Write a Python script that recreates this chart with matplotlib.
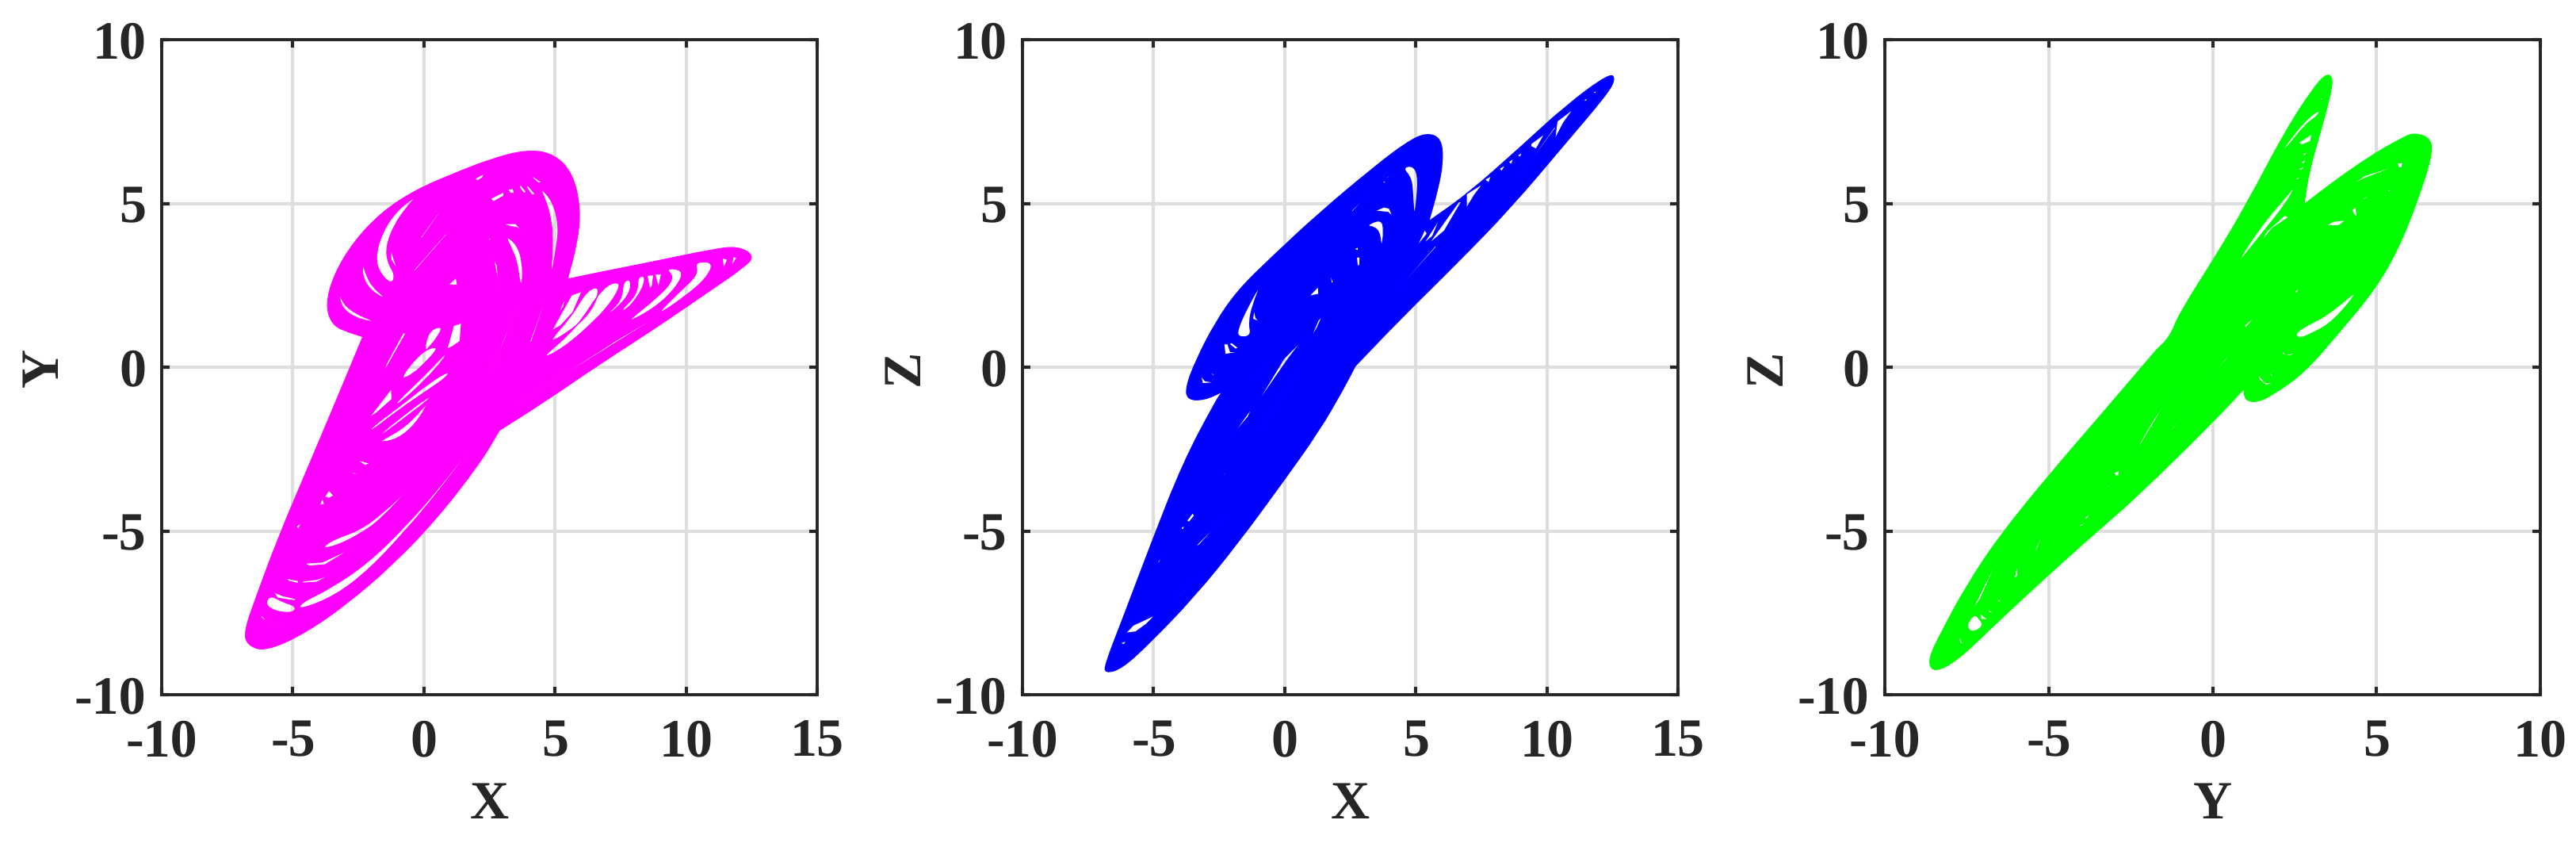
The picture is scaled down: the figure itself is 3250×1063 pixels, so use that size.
import numpy as np
import matplotlib
matplotlib.use('Agg')
import matplotlib.pyplot as plt
from matplotlib.path import Path
from matplotlib.patches import PathPatch

plt.rcParams['font.family'] = ['Liberation Serif', 'DejaVu Serif']
plt.rcParams['font.weight'] = 'bold'
plt.rcParams['axes.unicode_minus'] = False
plt.rcParams['text.hinting'] = 'none'

# outlines, one closed curve per panel
xy_x = [-6.85,-6.40,-5.56,-4.52,-3.48,-2.33,-2.85,-3.50,-3.75,-3.42,-2.68,-1.62,-0.35,1.10,2.56,3.92,4.95,5.68,5.98,5.85,5.48,
        6.73,8.81,10.90,11.98,12.62,12.18,10.90,8.81,6.73,4.65,2.88,2.15,0.48,-1.19,-2.85,-4.52,-6.05,-6.75]
xy_y = [-8.05,-7.02,-5.21,-3.25,-1.28,0.93,1.06,1.28,1.92,2.85,3.83,4.73,5.40,5.90,6.36,6.64,6.52,5.92,4.82,3.80,2.69,
        2.90,3.23,3.58,3.70,3.39,3.03,2.33,1.18,0.11,-1.03,-1.93,-2.92,-4.64,-6.03,-7.18,-8.12,-8.68,-8.48]
xy_sharp = [5, 20, 31]

xz_x = [-6.85,-6.17,-5.13,-3.88,-2.63,-2.38,-3.04,-3.70,-3.78,-3.38,-2.65,-1.79,-0.54,1.33,3.42,4.67,5.42,5.98,6.04,5.85,5.50,
        6.96,9.04,10.71,12.40,12.62,12.27,10.71,8.63,6.54,4.46,2.69,2.27,1.33,-0.13,-1.79,-3.46,-5.13,-6.20,-6.85]
xz_y = [-9.07,-7.67,-5.46,-2.92,-1.03,-0.75,-1.00,-1.00,-0.62,0.22,1.36,2.35,3.33,4.72,6.12,6.88,7.16,6.98,6.26,5.44,4.46,
        5.28,6.75,7.98,8.98,8.80,8.31,6.84,4.87,3.15,1.51,0.03,-0.62,-1.93,-3.57,-5.38,-7.02,-8.41,-9.20,-9.35]
xz_sharp = [5, 20, 31]

yz_x = [-8.70,-8.27,-7.50,-6.50,-5.00,-3.40,-1.72,-1.30,-1.01,0.10,1.05,2.22,3.11,3.50,3.68,3.56,3.28,2.95,2.79,
        3.62,4.78,5.78,6.15,6.68,6.68,6.27,5.70,4.98,3.84,2.79,1.82,1.33,0.98,0.95,
        0.97,0.00,-2.30,-3.51,-5.00,-6.73,-7.78,-8.50]
yz_y = [-8.96,-8.07,-6.65,-5.15,-3.30,-1.45,0.52,0.93,1.65,3.40,5.00,7.22,8.58,8.98,8.80,8.18,7.14,6.01,4.97,
        5.61,6.43,7.00,7.16,6.98,6.41,5.13,3.68,2.40,1.03,-0.18,-0.86,-1.08,-1.00,-0.62,
        -0.65,-1.69,-3.95,-5.00,-6.33,-7.94,-8.95,-9.33]
yz_sharp = [6, 18, 34]

# white gaps inside each attractor
xy_holes = [
    [(-0.23,5.27),(-1.04,4.78),(-1.60,4.10),(-1.85,3.37),(-1.70,2.89),(-1.24,2.52),(-1.09,2.81),(-1.39,3.21),(-1.44,3.69),(-1.14,4.34),(-0.64,4.90)],
    [(-2.33,3.17),(-2.35,2.81),(-2.10,2.40),(-1.55,2.10),(-1.55,2.18),(-1.95,2.44),(-2.20,2.81)],
    [(-3.24,2.32),(-3.16,1.84),(-2.65,1.52),(-1.97,1.38),(-1.97,1.43),(-2.55,1.61),(-3.07,1.92)],
    [(-1.26,3.61),(-1.26,3.29),(-0.99,2.95),(-1.14,3.29)],
    [(-0.35,2.93),(0.88,4.06),(0.83,4.07),(-0.38,2.97)],
    [(-0.08,3.94),(0.58,4.69),(0.53,4.69),(-0.13,3.96)],
    [(0.93,2.52),(1.23,2.73),(1.28,2.50)],
    [(3.10,4.04),(3.56,3.73),(3.76,3.21),(3.76,2.56),(3.66,2.56),(3.56,3.21),(3.35,3.61)],
    [(4.41,5.51),(4.92,5.06),(5.14,4.34),(5.07,3.69),(4.82,2.65),(4.92,3.69),(4.87,4.50),(4.62,5.15)],
    [(3.00,4.38),(3.51,4.38),(3.76,4.14),(3.56,4.26),(3.20,4.32)],
    [(2.55,5.15),(3.05,5.35),(3.05,5.23),(2.65,5.05)],
    [(1.94,5.75),(2.29,5.91),(2.24,5.79),(2.04,5.69)],
    [(3.20,5.43),(3.40,5.45),(3.45,5.31),(3.30,5.31)],
    [(3.66,5.59),(3.91,5.35),(3.81,5.31),(3.66,5.47)],
    [(3.96,5.55),(4.26,5.27),(4.11,5.27),(3.91,5.50)],
    [(4.11,5.85),(4.52,5.63),(4.36,5.63),(4.16,5.77)],
    [(2.65,3.33),(2.80,3.09),(2.85,2.48),(2.75,2.93)],
    [(2.44,3.98),(2.57,3.90),(2.49,3.87)],
    [(3.56,1.80),(3.10,0.87),(2.49,-0.22),(3.05,0.87)],
    [(4.62,2.00),(4.11,0.79),(4.01,0.71),(4.52,1.85)],
    [(-1.49,-0.10),(-0.69,1.03),(-0.79,1.05),(-1.46,0.06)],
    [(0.02,0.47),(0.12,0.95),(0.37,1.19),(0.73,1.23),(0.47,0.87),(0.22,0.63)],
    [(0.88,0.55),(1.13,1.27),(1.43,1.35),(1.38,0.79),(1.08,0.63)],
    [(-0.89,-0.38),(-0.54,0.06),(0.07,0.55),(0.58,0.63),(0.17,0.23),(-0.43,-0.22)],
    [(-2.10,-1.55),(-1.24,-0.66),(-1.22,-0.98),(-1.80,-1.39)],
    [(-1.09,-1.10),(0.07,-0.22),(0.88,0.47),(0.78,0.27),(0.07,-0.38),(-0.99,-1.15)],
    [(-2.05,-1.87),(-0.84,-1.15),(0.17,-0.50),(0.98,-0.10),(0.88,-0.30),(0.07,-0.74),(-1.04,-1.35),(-2.00,-1.95)],
    [(0.27,-0.94),(-0.74,-1.55),(-1.60,-2.07),(-1.70,-2.07),(-0.84,-1.51),(0.17,-0.90)],
    [(5.12,1.62),(5.42,2.20),(5.32,1.84)],
    [(4.87,1.11),(5.63,2.20),(6.03,2.32),(5.68,1.67),(5.22,1.27)],
    [(4.64,0.66),(5.63,1.55),(6.23,2.36),(6.74,2.46),(6.43,1.75),(5.73,1.19)],
    [(4.36,0.20),(5.83,1.19),(6.84,2.48),(7.55,2.63),(7.24,2.08),(6.54,1.43),(5.32,0.58)],
    [(6.94,1.59),(7.55,2.04),(7.60,2.63),(7.91,2.68),(7.85,2.24),(7.29,1.75)],
    [(7.44,1.67),(8.15,2.24),(8.15,2.76),(8.45,2.79),(8.35,2.40),(7.85,1.83)],
    [(7.95,1.83),(8.61,2.40),(8.51,2.80),(8.76,2.82),(8.71,2.48)],
    [(8.35,1.91),(8.96,2.40),(8.81,2.84),(9.06,2.84),(8.96,2.48)],
    [(7.55,1.27),(8.96,2.16),(9.57,2.72),(9.21,3.03),(9.92,2.96),(9.67,2.48),(8.86,1.83)],
    [(8.76,1.51),(9.77,2.32),(10.47,2.84),(10.32,3.22),(11.06,3.21),(10.78,2.72),(9.97,2.16)],
    [(11.38,3.33),(11.58,3.29),(11.43,3.00)],
    [(11.79,3.37),(11.94,3.35),(11.74,3.09)],
    [(3.51,-1.16),(7.34,0.82),(9.97,2.06),(7.34,0.76)],
    [(-3.92,-5.54),(-3.46,-5.26),(-2.45,-4.98),(-1.55,-4.45),(-0.43,-3.59),(-1.65,-4.65),(-2.45,-5.10),(-3.36,-5.46)],
    [(-4.55,-5.99),(-3.87,-5.95),(-2.76,-5.54),(-3.77,-6.03),(-4.37,-6.07)],
    [(-4.73,-7.21),(-3.57,-6.76),(-2.15,-5.99),(-0.74,-4.89),(0.47,-3.80),(1.77,-2.47),(1.74,-2.54),(0.47,-3.88),(-0.69,-4.98),(-2.05,-6.15),(-3.36,-6.97),(-4.73,-7.41)],
    [(-5.84,-6.97),(-6.04,-7.17),(-5.89,-7.37),(-5.38,-7.50),(-4.93,-7.47),(-4.90,-7.29),(-5.38,-7.17)],
    [(-5.74,-6.86),(-5.58,-7.05),(-4.93,-7.13),(-4.88,-7.07),(-5.38,-6.98)],
    [(-5.28,-6.44),(-4.78,-6.52),(-4.80,-6.60),(-5.13,-6.54)],
    [(-4.65,-6.54),(-4.07,-6.48),(-3.57,-6.33),(-4.07,-6.56),(-4.63,-6.59)],
    [(-6.24,-7.54),(-5.99,-7.74),(-5.38,-7.85),(-5.94,-7.78),(-6.19,-7.66)],
    [(-4.86,-4.85),(-4.67,-4.76),(-4.73,-4.85),(-4.80,-4.96)],
    [(-3.97,-4.20),(-3.87,-4.00),(-3.79,-4.19)],
    [(-3.79,-3.96),(-3.62,-3.76),(-3.44,-3.92),(-3.62,-4.00)],
    [(-2.56,-2.82),(-2.05,-2.94),(-2.25,-3.00)],
    [(-2.86,-3.15),(-2.51,-3.27),(-2.66,-3.27)],
    [(-1.65,-2.25),(-0.64,-1.80),(0.27,-0.95),(-0.33,-1.76),(-1.04,-2.21),(-1.65,-2.29)],
]

xz_holes = [
    [(-0.87,2.60),(-1.42,1.83),(-1.80,1.15),(-1.77,0.91),(-1.27,0.95),(-1.37,1.35),(-1.22,1.91)],
    [(-1.17,1.75),(-1.22,1.47),(-0.97,1.39),(-1.10,1.51)],
    [(-2.32,0.71),(-2.27,0.39),(-1.62,0.48),(-2.07,0.47),(-2.17,0.71)],
    [(-2.12,0.71),(-1.87,0.55),(-1.77,0.59),(-2.02,0.75)],
    [(-3.21,-0.26),(-3.13,-0.50),(-2.63,-0.47),(-3.03,-0.42)],
    [(-2.88,-0.14),(-2.73,-0.26),(-2.68,-0.22)],
    [(0.93,2.17),(1.28,2.46),(1.30,2.23)],
    [(1.73,2.88),(1.86,2.57),(1.78,2.57)],
    [(2.74,3.36),(2.87,3.36),(2.86,3.10),(2.77,3.10)],
    [(2.64,3.60),(2.79,3.67),(2.82,3.56)],
    [(3.09,4.32),(3.69,4.53),(3.79,4.16),(3.69,3.60),(3.64,4.08),(3.44,4.28)],
    [(3.44,4.77),(3.79,4.89),(3.99,4.85),(4.12,4.61),(3.94,4.73)],
    [(4.49,6.09),(4.89,6.16),(5.09,5.85),(5.04,5.13),(4.94,4.57),(4.89,5.21),(4.84,5.77)],
    [(4.69,6.36),(5.04,6.29),(4.79,6.32)],
    [(3.74,5.81),(4.24,5.85),(3.94,5.79)],
    [(3.69,5.65),(3.84,5.68),(3.84,5.61)],
    [(2.54,4.77),(3.09,5.21),(3.14,5.23),(2.59,4.75)],
    [(0.98,0.87),(1.28,1.43),(1.43,1.55),(1.23,1.19)],
    [(-1.00,-1.02),(-0.02,0.27),(0.68,0.83),(0.18,0.31),(-0.87,-0.90)],
    [(4.24,2.30),(5.79,3.68),(5.74,3.70),(4.24,2.33)],
    [(5.04,3.68),(5.34,4.20),(5.44,4.08)],
    [(5.29,3.76),(5.94,4.57),(5.64,4.00)],
    [(5.49,3.76),(6.64,5.05),(6.74,5.05),(6.09,4.16)],
    [(-0.97,-1.95),(0.53,-0.14),(0.56,-0.14),(-0.94,-1.95)],
    [(-1.12,-0.38),(-0.72,0.14),(-0.70,0.14),(-1.10,-0.38)],
    [(10.39,7.51),(11.02,7.89),(10.64,7.47),(10.30,6.95)],
    [(9.39,6.82),(9.92,7.13),(9.59,6.66),(9.39,6.74)],
    [(8.86,6.46),(9.06,6.56),(8.99,6.42)],
    [(8.53,6.26),(8.73,6.38),(8.65,6.19)],
    [(8.18,6.06),(8.43,6.18),(8.28,5.98)],
    [(7.63,5.73),(7.88,5.84),(7.78,5.63)],
    [(6.93,5.29),(7.56,5.60),(7.23,5.25),(6.93,4.85)],
    [(11.40,8.15),(11.55,8.23),(11.50,8.11)],
    [(11.75,8.40),(11.90,8.44),(11.85,8.35)],
    [(8.94,5.81),(10.34,7.31),(10.29,7.33),(8.99,5.89)],
    [(-6.06,-8.12),(-5.78,-7.88),(-4.92,-7.56),(-5.27,-7.84),(-5.68,-8.08)],
    [(-4.72,-7.48),(-3.86,-6.87),(-2.95,-6.06),(-3.76,-6.75),(-4.65,-7.48)],
    [(-3.74,-4.69),(-3.51,-4.45),(-3.44,-4.53),(-3.64,-4.73)],
    [(-3.96,-4.90),(-3.81,-4.84),(-3.88,-4.98)],
    [(-3.44,-5.50),(-2.30,-4.57),(-3.25,-5.42)],
    [(-4.85,-5.96),(-4.62,-5.70),(-4.79,-5.97)],
    [(-2.37,-3.28),(-2.15,-3.18),(-2.30,-3.29)],
    [(-2.05,-2.13),(-1.24,-1.23),(-1.39,-1.51)],
    [(-6.28,-8.42),(-6.03,-8.36),(-6.13,-8.47)],
]

yz_holes = [
    [(0.61,2.96),(1.42,4.24),(2.31,5.29),(2.55,5.57),(2.22,4.97),(1.50,4.08)],
    [(2.31,4.57),(1.82,4.24),(1.42,3.76),(1.66,4.16),(2.22,4.65)],
    [(2.14,6.66),(2.79,7.50),(3.26,7.87),(3.24,7.70),(2.83,7.42),(2.23,6.66)],
    [(2.63,6.86),(3.03,7.12),(2.99,6.90),(2.71,6.78)],
    [(2.75,6.54),(2.91,6.54),(2.79,6.45)],
    [(2.67,6.25),(2.85,6.33),(2.79,6.21)],
    [(2.59,6.05),(2.83,6.13),(2.71,6.01)],
    [(2.52,5.77),(2.71,5.81),(2.59,5.72)],
    [(3.28,8.22),(3.36,8.22),(3.32,8.14)],
    [(4.17,5.53),(4.65,5.85),(5.54,6.13),(5.38,6.05),(4.65,5.77)],
    [(5.64,6.24),(5.80,6.24),(5.77,6.09),(5.66,6.11)],
    [(4.25,4.81),(4.37,4.89),(4.41,4.58),(4.29,4.69)],
    [(3.20,4.16),(3.68,4.45),(4.07,4.49),(3.84,4.32),(3.52,4.32)],
    [(5.14,4.81),(5.34,5.25),(5.22,5.01)],
    [(5.30,5.39),(5.48,5.43),(5.38,5.35)],
    [(4.53,5.13),(4.81,5.25),(4.65,5.13)],
    [(2.51,1.03),(2.87,1.27),(3.52,1.59),(4.57,2.48),(3.68,1.39),(3.03,1.03),(2.63,0.87)],
    [(2.10,0.51),(2.23,0.39),(2.63,0.43),(2.35,0.35),(2.14,0.39)],
    [(1.40,-0.22),(1.58,-0.46),(1.90,-0.50),(1.62,-0.54),(1.42,-0.38)],
    [(1.66,-0.10),(1.90,-0.30),(1.78,-0.26)],
    [(2.51,2.32),(2.63,2.40),(2.56,2.23)],
    [(0.97,1.27),(1.33,1.59),(1.01,1.19)],
    [(-0.20,-0.50),(0.36,0.23),(1.25,1.11),(0.61,0.47)],
    [(-0.53,-0.26),(-0.04,0.51),(-0.44,-0.14)],
    [(-7.46,-7.78),(-7.26,-7.54),(-7.10,-7.70),(-6.99,-7.90),(-7.30,-8.10),(-7.48,-7.98)],
    [(-7.10,-7.50),(-7.06,-7.70),(-6.85,-7.70),(-7.02,-7.58)],
    [(-6.85,-7.38),(-6.81,-7.50),(-6.69,-7.50)],
    [(-6.57,-7.06),(-6.45,-7.14),(-6.53,-7.18)],
    [(-7.78,-8.15),(-7.70,-8.43),(-7.62,-8.43)],
    [(-7.34,-7.42),(-6.41,-5.56),(-7.10,-7.10)],
    [(-5.52,-5.81),(-5.16,-5.00),(-4.80,-4.31),(-5.12,-4.92),(-5.32,-5.48)],
    [(-6.05,-6.45),(-5.97,-6.05),(-5.94,-6.37)],
    [(-3.91,-4.60),(-3.75,-4.48),(-3.83,-4.64)],
    [(-4.11,-4.84),(-3.83,-4.72),(-3.99,-4.85)],
    [(-3.23,-3.63),(-3.10,-3.59),(-3.19,-3.67)],
    [(-3.00,-3.23),(-2.86,-3.15),(-2.86,-3.31),(-2.96,-3.32)],
    [(-2.46,-2.66),(-2.40,-2.52),(-2.42,-2.66)],
    [(-2.30,-2.46),(-1.81,-1.61),(-1.00,-0.48),(-1.65,-1.45),(-2.18,-2.34)],
    [(-1.29,-1.94),(-0.60,-1.09),(-1.21,-1.90)],
    [(-4.80,-5.81),(-4.69,-5.71),(-4.76,-5.82)],
]


def area(pts):
    p = np.asarray(pts)
    return 0.5*np.sum(p[:, 0]*np.roll(p[:, 1], -1) - np.roll(p[:, 0], -1)*p[:, 1])


# read points are control points of a quadratic curve, a repeated point stays a corner
def smooth_ring(ring):
    mid = lambda a, b: ((a[0]+b[0])/2, (a[1]+b[1])/2)
    verts = [mid(ring[-1], ring[0])]
    codes = [Path.MOVETO]
    for i in range(len(ring)):
        verts += [ring[i], mid(ring[i], ring[(i+1) % len(ring)])]
        codes += [Path.CURVE3, Path.CURVE3]
    return verts, codes


# outer ring counter clockwise, holes clockwise, so the grid shows through the holes
def attractor_path(x, y, sharp, holes):
    outer = []
    for i, p in enumerate(zip(x, y)):
        outer += [p, p] if i in sharp else [p]
    if area(outer) < 0:
        outer = outer[::-1]
    verts, codes = smooth_ring(outer)
    for ring in holes:
        if area(ring) > 0:
            ring = ring[::-1]
        if len(ring) >= 6:
            v, c = smooth_ring(ring)
        else:
            v = list(ring) + [ring[0]]
            c = [Path.MOVETO] + [Path.LINETO]*(len(ring)-1) + [Path.CLOSEPOLY]
        verts += v
        codes += c
    return Path(verts, codes)


W, H = 3250, 1063
fig = plt.figure(figsize=[W/100, H/100], dpi=100, facecolor='white')

panels = [
    (204, xy_x, xy_y, xy_sharp, xy_holes, '#ff00ff', 'X', 'Y', [-10, 15], [-10, -5, 0, 5, 10, 15]),
    (1290, xz_x, xz_y, xz_sharp, xz_holes, '#0000ff', 'X', 'Z', [-10, 15], [-10, -5, 0, 5, 10, 15]),
    (2378, yz_x, yz_y, yz_sharp, yz_holes, '#00ff00', 'Y', 'Z', [-10, 10], [-10, -5, 0, 5, 10]),
]
for left, x, y, sharp, holes, color, xlab, ylab, xlim, xticks in panels:
    ax = fig.add_axes([left/W, 1-876/H, 827/W, 826/H])
    ax.add_patch(PathPatch(attractor_path(x, y, sharp, holes), facecolor=color, edgecolor=color,
                           lw=0.8, joinstyle='round', zorder=2))
    ax.set_xlim(xlim)
    ax.set_ylim(-10, 10)
    ax.set_xticks(xticks)
    ax.set_yticks([-10, -5, 0, 5, 10])
    ax.set_axisbelow(True)
    ax.grid(True, color='#dedede', lw=3)
    ax.tick_params(direction='in', length=7, width=3, top=True, right=True,
                   color='#262626', labelcolor='#262626', labelsize=49)
    ax.tick_params(axis='x', pad=22)
    ax.tick_params(axis='y', pad=14)
    for s in ax.spines.values():
        s.set_linewidth(2.8)
        s.set_color('#262626')
    ax.set_xlabel(xlab, fontsize=49, fontweight='bold', color='#262626', labelpad=12)
    ax.set_ylabel(ylab, fontsize=49, fontweight='bold', color='#262626', labelpad=5)

fig.savefig('out.png', dpi=100)
